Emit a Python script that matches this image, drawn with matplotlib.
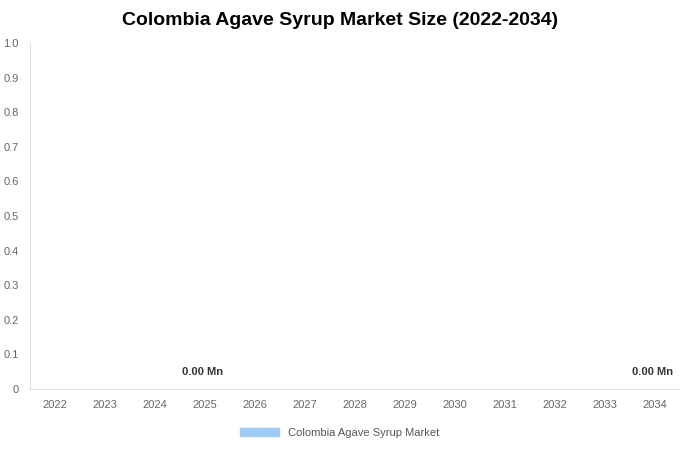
import matplotlib
matplotlib.use('Agg')
import matplotlib.pyplot as plt
from matplotlib.patches import Patch

years = [str(y) for y in range(2022, 2035)]
values = [0.0] * 13
labelled_years = ['2025', '2034']

plt.rcParams['font.family'] = ['Liberation Sans', 'DejaVu Sans']
fig = plt.figure(figsize=(6.8, 4.5), dpi=100)
ax = fig.add_axes([0.044, 0.136, 0.956, 0.768])

x = range(len(years))
ax.bar(x, values, width=0.6, color='#a0cbf5')
for i, (yr, v) in enumerate(zip(years, values)):
    if yr in labelled_years:
        ax.text(i - 0.05, v + 0.035, f'{v:.2f} Mn', ha='center', va='bottom',
                fontsize=8, fontweight='bold', color='#333333')

ax.set_xlim(-0.5, len(years) - 0.5)
ax.set_ylim(0, 1.0)
ax.set_xticks(list(x))
ax.set_xticklabels(years)
ax.set_yticks([i / 10 for i in range(11)])
ax.set_yticklabels(['0'] + [f'{i / 10:.1f}' for i in range(1, 11)])
ax.tick_params(colors='#666666', labelsize=8, length=0, pad=8)
for s in ['top', 'right']:
    ax.spines[s].set_visible(False)
for s in ['left', 'bottom']:
    ax.spines[s].set_color('#e0e0e0')

fig.text(0.5, 0.955, 'Colombia Agave Syrup Market Size (2022-2034)', ha='center',
         va='center', fontsize=14, fontweight='bold')
fig.legend(handles=[Patch(color='#a0cbf5', label='Colombia Agave Syrup Market')],
           loc='center', bbox_to_anchor=(0.5, 0.038), frameon=False, fontsize=8,
           handlelength=3.5, labelcolor='#555555')

fig.savefig('out.png', dpi=100)
